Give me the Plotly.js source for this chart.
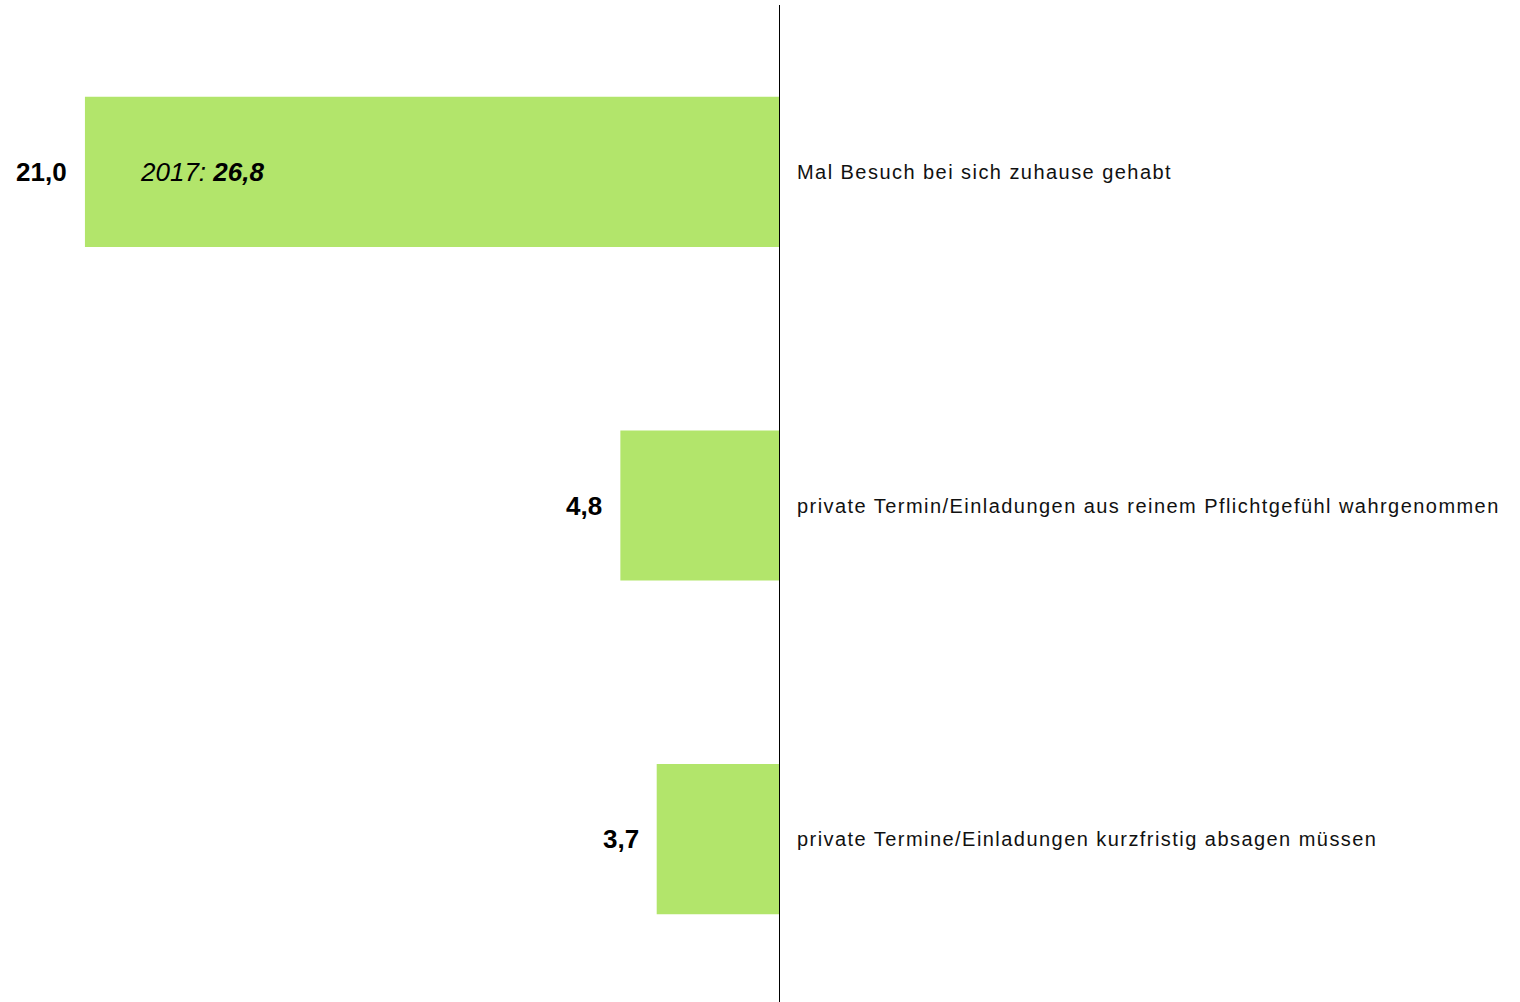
<!DOCTYPE html>
<html>
<head>
<meta charset="utf-8">
<script src="https://cdn.plot.ly/plotly-3.0.1.min.js"></script>
<style>
  html, body { margin: 0; padding: 0; overflow: hidden; background: #fff; }
  #chart { width: 1520px; height: 1006px; }
  g.annotation[data-index="0"] text,
  g.annotation[data-index="1"] text,
  g.annotation[data-index="2"] text { letter-spacing: 1.45px; }
</style>
</head>
<body>
<div id="chart"></div>
<script>
const categories = [
  "Mal Besuch bei sich zuhause gehabt",
  "private Termin/Einladungen aus reinem Pflichtgefühl wahrgenommen",
  "private Termine/Einladungen kurzfristig absagen müssen"
];
const values = [21.0, 4.8, 3.7];
const valueLabels = ["21,0", "4,8", "3,7"];
const prevYear = "2017";
const prevValue = "26,8";

const barColor = "#b2e56b";
const fontFamily = "Liberation Sans, Arial, sans-serif";

const annotations = [];
categories.forEach((c) => {
  annotations.push({
    x: 1, xref: "paper", y: c, yref: "y",
    xanchor: "left", yanchor: "middle", align: "left", xshift: 16,
    text: c, showarrow: false,
    font: { family: fontFamily, size: 20, color: "#111" }
  });
});
categories.forEach((c, i) => {
  annotations.push({
    x: values[i], xref: "x", y: c, yref: "y",
    xanchor: "right", yanchor: "middle", xshift: -16,
    text: "<b>" + valueLabels[i] + "</b>", showarrow: false,
    font: { family: fontFamily, size: 26, color: "#000" }
  });
});
annotations.push({
  x: values[0], xref: "x", y: categories[0], yref: "y",
  xanchor: "left", yanchor: "middle", xshift: 53,
  text: "<i>" + prevYear + ": <b>" + prevValue + "</b></i>", showarrow: false,
  font: { family: fontFamily, size: 26, color: "#000" }
});

const trace = {
  type: "bar",
  orientation: "h",
  x: values,
  y: categories,
  marker: { color: barColor, line: { width: 0 } },
  hoverinfo: "none"
};

const layout = {
  width: 1520,
  height: 1006,
  margin: { l: 0, r: 741, t: 5, b: 0, pad: 0 },
  paper_bgcolor: "#ffffff",
  plot_bgcolor: "#ffffff",
  bargap: 0.55,
  showlegend: false,
  xaxis: {
    range: [23.57, 0],
    showgrid: false, zeroline: false, showline: false,
    showticklabels: false, ticks: ""
  },
  yaxis: {
    type: "category",
    autorange: "reversed",
    side: "right",
    showgrid: false, zeroline: false,
    showline: true, linecolor: "#000", linewidth: 1,
    showticklabels: false, ticks: ""
  },
  annotations: annotations
};

Plotly.newPlot("chart", [trace], layout, { staticPlot: true, displayModeBar: false });
</script>
</body>
</html>
